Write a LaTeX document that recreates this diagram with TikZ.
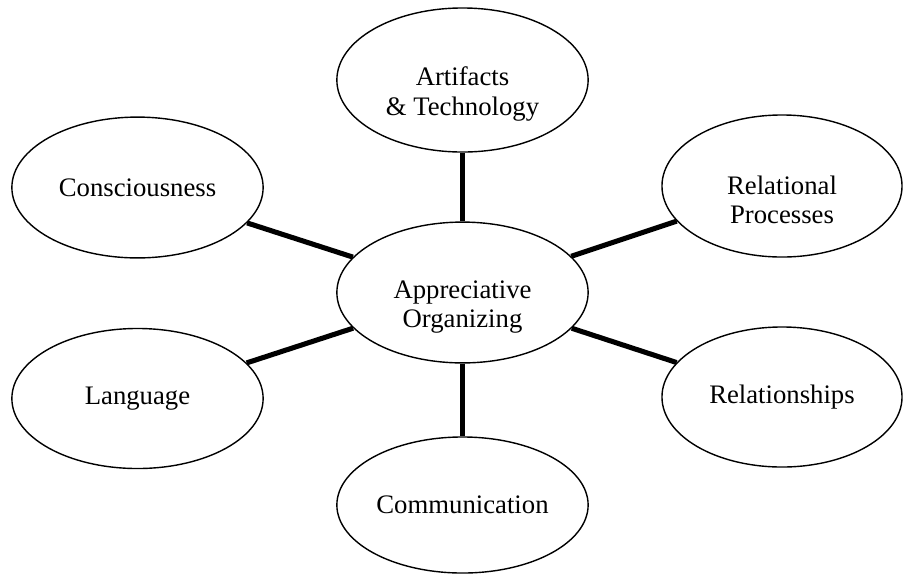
\documentclass[tikz,border=0pt]{standalone}
\usepackage{fontspec}
\setmainfont{Liberation Serif}
\usetikzlibrary{shapes.geometric}

\begin{document}
\begin{tikzpicture}[x=0.025cm, y=-0.025cm,
  bubble/.style={draw, ellipse, line width=1pt, inner sep=0pt, minimum width=6.28cm,
    minimum height=3.52cm, align=center, font=\fontsize{19}{21}\selectfont},
  twoline/.style={execute at begin node={\rule{0pt}{54pt}}},
  spoke/.style={line width=3.6pt}]
  \useasboundingbox (0,0) rectangle (904,575);
  % hub and the six themes around it
  \node[bubble, twoline] (hub) at (462.5,292.5) {Appreciative\\Organizing};
  \node[bubble, twoline, minimum height=3.6cm] (art) at (462.5,80) {Artifacts\\\& Technology};
  \node[bubble, minimum height=3.4cm] (com) at (462.5,505) {Communication};
  \node[bubble] (cons) at (137.5,187.5) {Consciousness};
  \node[bubble, minimum height=3.5cm] (lang) at (137.5,398.5) {Language};
  \node[bubble, twoline, minimum width=6cm, minimum height=3.55cm] (relp) at (782,186) {Relational\\Processes};
  \node[bubble, minimum width=6cm, minimum height=3.5cm] (rels) at (782,397) {Relationships};

  \foreach \n in {art,com,cons,lang,relp,rels}
    \draw[spoke] (hub) -- (\n);
\end{tikzpicture}
\end{document}
